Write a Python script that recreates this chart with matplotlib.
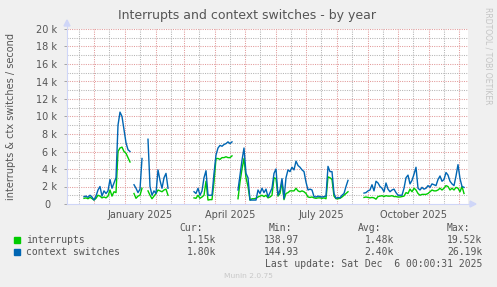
import matplotlib
matplotlib.use('Agg')
from datetime import datetime, timedelta

import matplotlib.pyplot as plt
import numpy as np
import pandas as pd
from matplotlib.patches import Polygon, Rectangle

# daily-averaged values (thousands / second), one point every 2 days, None = no data
start_date = '2024-11-21'
interrupts = [
    0.65, 0.7, 0.6, 0.76, 0.62, 0.45, 0.65, 1.0, 0.9, 0.7, 0.8, 0.7, 0.9, 1.6, 0.9, 1.4, 1.3,
    6.0, 6.4, 6.5, 6.0, 5.8, 5.3, 4.8,
    None, 1.2, 0.65, 0.9, 1.0, 1.8, None, None,
    1.5, 1.0, 0.6, 0.9, 1.2, 1.6, 1.5, 1.4, 1.6, 1.7, 1.0,
    None, None, None, None, None, None, None, None, None, None, None, None,
    0.7, 0.65, 1.0, 0.65, 0.8, 1.0, 2.6, 0.45, 0.5, 0.5, 2.5, 5.2, 5.2, 5.1, 5.3, 5.3, 5.4, 5.3,
    5.3, 5.5, None, None,
    0.6, 2.5, 4.0, 5.2, 3.0, 2.0, 0.45, 0.6, 0.6, 0.65, 0.8, 0.9, 1.0, 0.85, 1.0, 0.7, 0.8, 1.0,
    3.0, 2.9, 0.9, 1.2, 2.5, 0.5, 1.2, 1.3, 1.5, 1.5, 1.5, 1.8, 1.5, 1.4, 1.5, 1.4, 1.2, 0.8,
    0.75, 0.8, 0.7, 0.65, 0.7, 0.7, 0.65, 0.7, 0.6, 3.1, 3.0, 2.8, 0.9, 0.6, 0.6, 0.65, 0.8,
    1.0, 1.2, 1.4,
    None, None, None, None, None, None, None,
    0.75, 0.8, 0.75, 0.7, 0.75, 0.7, 0.55, 0.85, 0.9, 0.95, 0.85, 0.95, 0.9, 0.9, 0.95, 0.85,
    0.85, 0.8, 0.8, 0.85, 0.9, 1.3, 1.2, 1.7, 1.4, 1.8, 1.6, 1.2, 1.0, 1.1, 1.1, 1.1, 1.2, 1.4,
    1.6, 1.5, 1.5, 1.6, 1.8, 1.6, 1.8, 2.1, 2.0, 1.6, 1.8, 1.6, 1.9, 1.8, 1.4, 2.0, 1.2,
]
ctx_switches = [
    0.84, 0.9, 0.76, 1.0, 0.8, 0.45, 0.9, 1.6, 2.0, 0.9, 1.5, 1.2, 1.5, 2.8, 1.8, 2.4, 3.0,
    9.0, 10.5, 10.0, 8.5, 7.0, 6.2, 6.0,
    None, 2.2, 1.8, 1.3, 1.7, 5.2, None, None,
    7.4, 2.0, 1.0, 1.5, 1.2, 3.9, 2.7, 1.8, 3.0, 3.5, 1.8,
    None, None, None, None, None, None, None, None, None, None, None, None,
    1.4, 1.2, 1.8, 1.0, 1.5, 3.0, 3.8, 1.0, 1.0, 1.0, 3.5, 5.6, 6.4, 6.7, 6.6, 6.8, 6.9, 7.1,
    6.9, 7.1, None, None,
    1.6, 3.3, 5.0, 6.4, 3.5, 3.0, 0.45, 0.45, 0.45, 0.45, 1.6, 1.2, 1.8, 1.3, 1.7, 0.8, 1.3, 1.8,
    3.5, 4.0, 1.0, 1.6, 2.9, 0.6, 3.0, 3.9, 3.7, 4.2, 3.9, 4.9, 4.4, 4.2, 3.9, 3.7, 2.5, 1.6,
    1.7, 1.6, 0.85, 0.8, 0.9, 0.85, 0.8, 0.85, 0.9, 4.3, 3.7, 3.7, 1.2, 0.65, 0.75, 0.7, 1.0,
    1.2, 2.0, 2.7,
    None, None, None, None, None, None, None,
    1.25, 1.3, 1.5, 1.6, 2.2, 1.5, 2.6, 2.4, 2.0, 1.8, 1.4, 2.4, 1.7, 1.4, 1.6, 1.7,
    1.3, 1.0, 1.0, 1.0, 1.8, 3.0, 3.3, 2.3, 2.7, 3.4, 4.2, 1.8, 1.6, 1.9, 1.7, 1.8, 2.1, 1.9,
    2.3, 2.2, 2.1, 2.8, 3.2, 2.6, 2.8, 3.6, 3.3, 2.6, 2.3, 2.1, 3.2, 4.5, 2.9, 2.0, 1.9,
]
y_ticks = [0, 2, 4, 6, 8, 10, 12, 14, 16, 18, 20]
x_labels = ['January 2025', 'April 2025', 'July 2025', 'October 2025']

legend_rows = [
    ('interrupts', '#00CC00', '1.15k', '138.97', '1.48k', '19.52k'),
    ('context switches', '#0066B3', '1.80k', '144.93', '2.40k', '26.19k'),
]

W, H = 497, 287
FONT = '#555555'
GRID = '#B4B4B4'
MGRID = '#E29A9A'
AXIS = '#CFD6F8'

dates = pd.date_range(start_date, periods=len(interrupts), freq='2D')
irq = np.array(interrupts, dtype=float) * 1000
ctx = np.array(ctx_switches, dtype=float) * 1000

fig = plt.figure(figsize=(W / 100, H / 100), dpi=100, facecolor='#F0F0F0')
ax = fig.add_axes([67 / W, 1 - 204 / H, 401 / W, 175 / H])
ax.set_facecolor('white')
for s in ax.spines.values():
    s.set_visible(False)

x0, x1 = datetime(2024, 11, 4), datetime(2025, 12, 10)
ax.set_xlim(x0, x1)
ax.set_ylim(0, 20000)

dot = (0, (1, 1.2))
for v in range(1000, 20001, 1000):
    ax.axhline(v, color=MGRID if v % 2000 == 0 else GRID, lw=0.75, ls=dot, zorder=1)
d = x0
while d <= x1:
    if d.day == 1:
        ax.axvline(d, color=MGRID, lw=0.75, ls=dot, zorder=1)
    elif d.day == 16:
        ax.axvline(d, color=GRID, lw=0.75, ls=dot, zorder=1)
    d += timedelta(days=1)

ax.plot(dates, irq, color='#00CC00', lw=1.0, zorder=3)
ax.plot(dates, ctx, color='#0066B3', lw=1.0, zorder=4)

ax.set_yticks([v * 1000 for v in y_ticks])
ax.set_yticklabels(['0  '] + [f'{v} k' for v in y_ticks[1:]])
mids = [datetime(2025, m, 16) for m in (1, 4, 7, 10)]
ax.set_xticks(mids)
ax.set_xticklabels(x_labels)
ax.tick_params(axis='x', length=0, pad=4, labelsize=7, labelcolor=FONT)
ax.tick_params(axis='y', length=2, width=0.6, color='#999999', pad=5, labelsize=7, labelcolor=FONT)

# overlay in pixel coordinates for axes arrows and text
ov = fig.add_axes([0, 0, 1, 1], zorder=5)
ov.set_xlim(0, W)
ov.set_ylim(H, 0)
ov.axis('off')

ov.plot([67, 67], [204, 25], color=AXIS, lw=0.8)
ov.plot([67, 471], [204, 204], color=AXIS, lw=0.8)
ov.add_patch(Polygon([[64, 26], [70, 26], [67, 20]], color=AXIS))
ov.add_patch(Polygon([[470, 201], [470, 207], [476, 204]], color=AXIS))

ov.text(247.5, 16, 'Interrupts and context switches - by year', ha='center', va='center',
        fontsize=9, color=FONT)
ov.text(11, 117, 'interrupts & ctx switches / second', rotation=90, ha='center', va='center',
        fontsize=7, color=FONT)
ov.text(488, 56, 'RRDTOOL / TOBI OETIKER', rotation=270, ha='center', va='center',
        fontsize=5.5, color='#C4C4C4')

mono = 'DejaVu Sans Mono'
for x, h in zip((203, 292, 381, 470), ('Cur:', 'Min:', 'Avg:', 'Max:')):
    ov.text(x, 228, h, ha='right', va='center', family=mono, fontsize=7, color=FONT)
for i, (name, col, cur, mn, avg, mx) in enumerate(legend_rows):
    y = 240 + 12 * i
    ov.add_patch(Rectangle((14, y - 2.7), 5.5, 5.5, color=col))
    ov.text(26.5, y, name, ha='left', va='center', family=mono, fontsize=7, color=FONT)
    for x, v in zip((216.5, 299, 394, 482.5), (cur, mn, avg, mx)):
        ov.text(x, y, v, ha='right', va='center', family=mono, fontsize=7, color=FONT)
ov.text(482.5, 264, 'Last update: Sat Dec  6 00:00:31 2025', ha='right', va='center',
        family=mono, fontsize=7, color=FONT)
ov.text(248, 276, 'Munin 2.0.75', ha='center', va='center', fontsize=5.4, color='#C8C8C8')

fig.savefig('out.png', dpi=100, facecolor=fig.get_facecolor())
